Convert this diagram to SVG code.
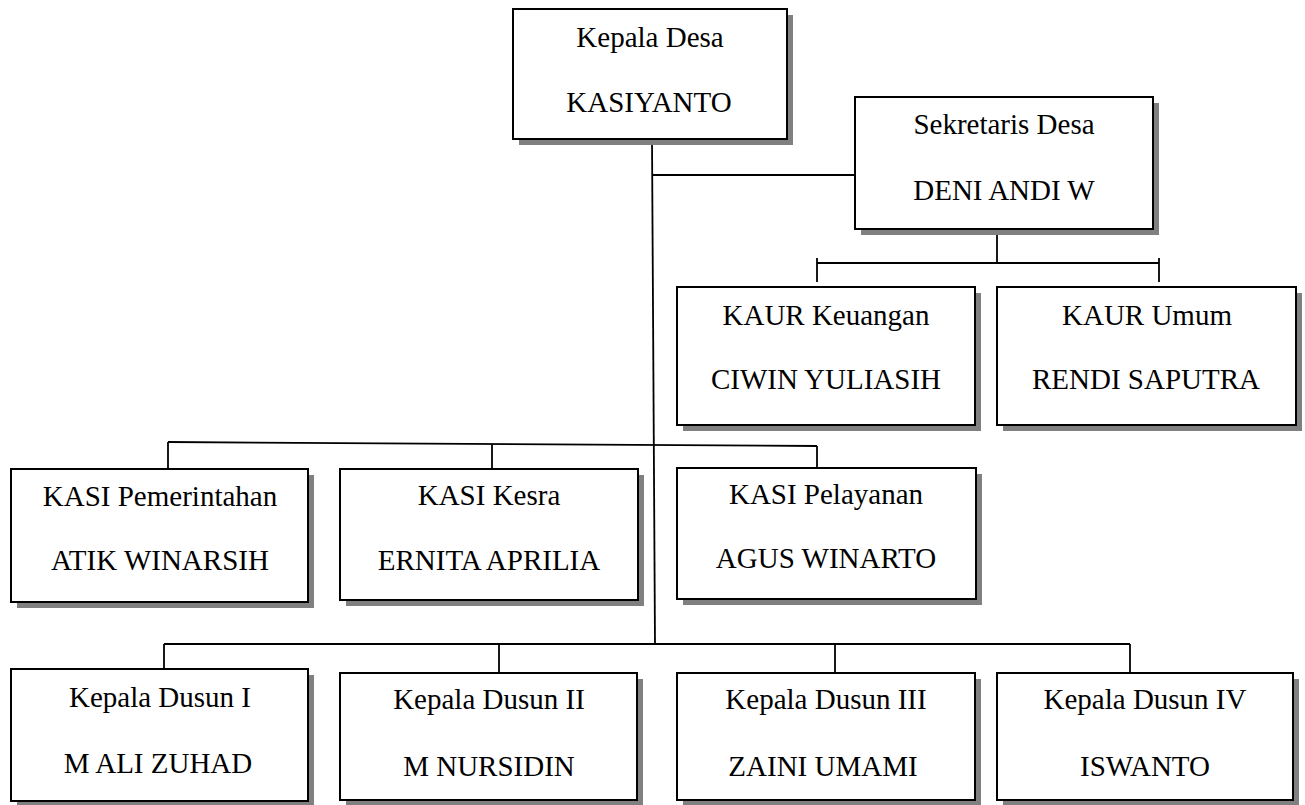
<svg xmlns="http://www.w3.org/2000/svg" width="1305" height="805" viewBox="0 0 1305 805">
<style>
.sh{fill:#808080;}
.bx{fill:#fff;stroke:#000;stroke-width:2;}
.t{font-family:"Liberation Serif","Times New Roman",serif;font-size:29px;fill:#000;text-anchor:middle;}
.c{stroke:#000;stroke-width:1.8;fill:none;}
</style>
<rect width="1305" height="805" fill="#fff"/>
<g id="connectors">
<line class="c" x1="652" y1="139" x2="655" y2="644"/>
<line class="c" x1="652" y1="175" x2="855" y2="175"/>
<line class="c" x1="997" y1="229" x2="997" y2="263"/>
<line class="c" x1="817" y1="263" x2="1159" y2="263"/>
<line class="c" x1="817" y1="258" x2="817" y2="282"/>
<line class="c" x1="1159" y1="258" x2="1159" y2="282"/>
<line class="c" x1="168" y1="442" x2="817" y2="446"/>
<line class="c" x1="168" y1="442" x2="168" y2="469"/>
<line class="c" x1="492" y1="444" x2="492" y2="469"/>
<line class="c" x1="817" y1="446" x2="817" y2="468"/>
<line class="c" x1="164" y1="644" x2="1130" y2="644"/>
<line class="c" x1="164" y1="644" x2="164" y2="669"/>
<line class="c" x1="499" y1="644" x2="499" y2="673"/>
<line class="c" x1="835" y1="644" x2="835" y2="673"/>
<line class="c" x1="1130" y1="644" x2="1130" y2="673"/>
</g>
<g id="kepala-desa">
<rect class="sh" x="519" y="15" width="274" height="130"/>
<rect class="bx" x="513" y="9" width="274" height="130"/>
<text class="t" x="650" y="47">Kepala Desa</text>
<text class="t" x="649" y="112">KASIYANTO</text>
</g>
<g id="sekretaris-desa">
<rect class="sh" x="861" y="103" width="298" height="132"/>
<rect class="bx" x="855" y="97" width="298" height="132"/>
<text class="t" x="1004" y="134">Sekretaris Desa</text>
<text class="t" x="1004" y="200">DENI ANDI W</text>
</g>
<g id="kaur-keuangan">
<rect class="sh" x="683" y="293" width="298" height="138"/>
<rect class="bx" x="677" y="287" width="298" height="138"/>
<text class="t" x="826" y="325">KAUR Keuangan</text>
<text class="t" x="826" y="389">CIWIN YULIASIH</text>
</g>
<g id="kaur-umum">
<rect class="sh" x="1003" y="293" width="299" height="138"/>
<rect class="bx" x="997" y="287" width="299" height="138"/>
<text class="t" x="1147" y="325">KAUR Umum</text>
<text class="t" x="1146" y="389">RENDI SAPUTRA</text>
</g>
<g id="kasi-pemerintahan">
<rect class="sh" x="17" y="475" width="297" height="133"/>
<rect class="bx" x="11" y="469" width="297" height="133"/>
<text class="t" x="160" y="506">KASI Pemerintahan</text>
<text class="t" x="160" y="570">ATIK WINARSIH</text>
</g>
<g id="kasi-kesra">
<rect class="sh" x="346" y="475" width="298" height="131"/>
<rect class="bx" x="340" y="469" width="298" height="131"/>
<text class="t" x="489" y="505">KASI Kesra</text>
<text class="t" x="489" y="570">ERNITA APRILIA</text>
</g>
<g id="kasi-pelayanan">
<rect class="sh" x="683" y="474" width="299" height="131"/>
<rect class="bx" x="677" y="468" width="299" height="131"/>
<text class="t" x="826" y="504">KASI Pelayanan</text>
<text class="t" x="826" y="568">AGUS WINARTO</text>
</g>
<g id="kepala-dusun-1">
<rect class="sh" x="17" y="675" width="297" height="132"/>
<rect class="bx" x="11" y="669" width="297" height="132"/>
<text class="t" x="160" y="707">Kepala Dusun I</text>
<text class="t" x="158" y="773">M ALI ZUHAD</text>
</g>
<g id="kepala-dusun-2">
<rect class="sh" x="346" y="679" width="297" height="127"/>
<rect class="bx" x="340" y="673" width="297" height="127"/>
<text class="t" x="489" y="709">Kepala Dusun II</text>
<text class="t" x="489" y="776">M NURSIDIN</text>
</g>
<g id="kepala-dusun-3">
<rect class="sh" x="683" y="679" width="298" height="127"/>
<rect class="bx" x="677" y="673" width="298" height="127"/>
<text class="t" x="826" y="709">Kepala Dusun III</text>
<text class="t" x="823" y="776">ZAINI UMAMI</text>
</g>
<g id="kepala-dusun-4">
<rect class="sh" x="1003" y="679" width="296" height="127"/>
<rect class="bx" x="997" y="673" width="296" height="127"/>
<text class="t" x="1145" y="709">Kepala Dusun IV</text>
<text class="t" x="1145" y="776">ISWANTO</text>
</g>
</svg>
